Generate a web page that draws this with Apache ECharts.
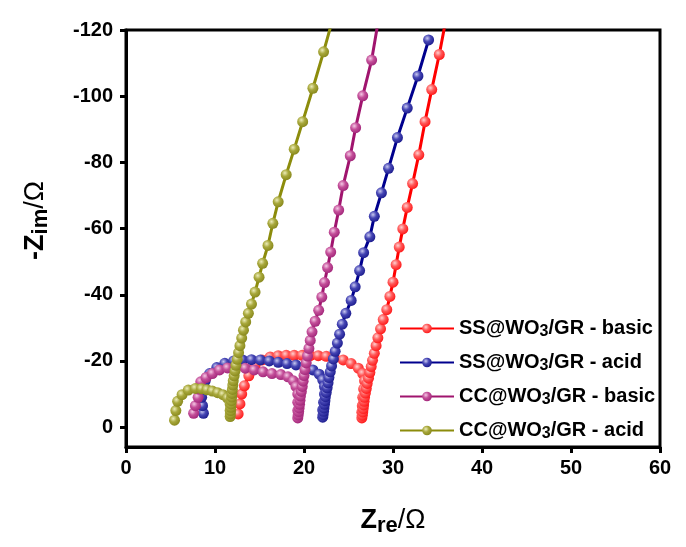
<!DOCTYPE html>
<html>
<head>
<meta charset="utf-8">
<script src="https://cdn.jsdelivr.net/npm/echarts@6/dist/echarts.min.js"></script>
<style>
  html, body { margin: 0; padding: 0; background: #ffffff; }
  #chart { width: 686px; height: 547px; }
</style>
</head>
<body>
<div id="chart"></div>
<script>
// Nyquist plots: [Z_re (Ω), -Z_im (Ω)]
const ssBasic = [
  [12.6,-4],[12.8,-7],[13.0,-10],[13.3,-12.5],[13.8,-15.5],[14.5,-18.5],[15.3,-20.3],[16.2,-21.2],
  [17.1,-21.6],[18.0,-21.7],[18.9,-21.7],[19.8,-21.7],[20.7,-21.6],[21.6,-21.6],[22.5,-21.4],
  [23.4,-21.0],[24.4,-20.3],[25.3,-19.2],[26.1,-17.8],[26.6,-16.2],[26.8,-14.0],[26.7,-11.5],
  [26.6,-9],[26.55,-6.5],[26.5,-4.5],[26.5,-2.8],
  [26.55,-3.6],[26.6,-4.6],[26.65,-5.6],[26.7,-6.7],[26.75,-7.8],[26.8,-9.0],[26.9,-10.3],
  [27.0,-11.7],[27.1,-13.2],[27.25,-14.8],[27.4,-16.5],[27.55,-18.3],[27.7,-20.2],[27.9,-22.3],
  [28.1,-24.6],[28.3,-27.0],[28.6,-29.7],[28.9,-32.5],[29.3,-35.5],[29.65,-39.5],[30.0,-43.8],
  [30.35,-49.1],[30.7,-54.4],[31.1,-59.9],[31.6,-66.4],[32.2,-73.6],[32.9,-82.3],[33.6,-92.3],
  [34.35,-102],[35.2,-112.6],[35.9,-122.5]
];
const ssAcid = [
  [8.7,-4.2],[8.6,-6.5],[8.5,-9],[8.6,-11.5],[8.9,-14],[9.4,-16.2],[10.2,-18],[11.1,-19.3],
  [12.1,-20.0],[13.1,-20.3],[14.1,-20.4],[15.1,-20.3],[16.1,-20.0],[17.1,-19.6],[18.1,-19.2],
  [19.1,-18.8],[20.1,-18.2],[21.0,-17.3],[21.7,-16.0],[22.1,-14.3],[22.3,-12.3],[22.3,-10],
  [22.2,-7.5],[22.1,-5.2],[22.1,-3],
  [22.15,-3.8],[22.2,-4.8],[22.25,-5.8],[22.3,-6.9],[22.35,-8.0],[22.4,-9.2],[22.5,-10.5],
  [22.6,-11.9],[22.7,-13.4],[22.8,-15],[22.95,-16.7],[23.1,-18.5],[23.3,-20.6],[23.5,-22.9],
  [23.75,-25.4],[24.0,-28.1],[24.3,-31.1],[24.7,-34.4],[25.3,-38.3],[25.75,-42.4],[26.25,-47.3],
  [26.7,-52.7],[27.4,-57.5],[27.9,-63.7],[28.7,-70.8],[29.5,-78.2],[30.5,-87.5],[31.6,-96.4],
  [32.8,-106.1],[34.0,-117]
];
const ccBasic = [
  [7.6,-4.2],[7.8,-6.5],[8.1,-9],[8.2,-11.5],[8.4,-13.7],[9.0,-15],[9.7,-16.2],[10.5,-17.3],
  [11.4,-17.9],[12.4,-18.1],[13.4,-17.8],[14.4,-17.3],[15.4,-16.7],[16.4,-16.2],[17.4,-15.9],
  [18.2,-15.2],[18.8,-14],[19.1,-12.3],[19.3,-10],[19.3,-7.5],[19.3,-5],[19.3,-2.8],
  [19.35,-3.7],[19.4,-4.7],[19.45,-5.8],[19.5,-6.9],[19.55,-8.1],[19.6,-9.4],[19.7,-10.8],
  [19.8,-12.3],[19.9,-13.9],[20.0,-15.6],[20.1,-17.4],[20.25,-19.4],[20.4,-21.5],[20.55,-23.8],
  [20.7,-26.2],[20.9,-28.8],[21.25,-32.0],[21.65,-35.3],[22.0,-39.3],[22.3,-43.7],[22.65,-48.2],
  [23.0,-52.9],[23.4,-58.9],[23.9,-65.6],[24.4,-73],[25.2,-82],[25.8,-90.5],[26.6,-100.1],
  [27.6,-110.9],[28.3,-122]
];
const ccAcid = [
  [5.45,-2.1],[5.6,-5],[5.8,-7.8],[6.3,-9.8],[7.0,-11.2],[7.8,-11.7],[8.5,-11.6],[9.1,-11.3],
  [9.7,-10.9],[10.3,-10.4],[10.9,-9.8],[11.4,-8.8],[11.7,-7],[11.7,-5],[11.7,-3.2],
  [11.72,-4],[11.75,-5],[11.78,-6],[11.8,-7],[11.83,-8],[11.87,-9.1],[11.9,-10.2],[11.95,-11.4],
  [12.0,-12.7],[12.05,-14.0],[12.15,-15.5],[12.25,-17],[12.35,-18.7],[12.5,-20.5],[12.65,-22.5],
  [12.8,-24.6],[13.0,-26.9],[13.2,-29.3],[13.45,-31.8],[13.75,-34.4],[14.1,-37.2],[14.5,-40.8],
  [14.95,-45.3],[15.35,-49.5],[15.95,-54.9],[16.5,-61.6],[17.1,-68.1],[18.0,-76.3],[18.9,-84],
  [19.85,-92.3],[21.0,-102.4],[22.2,-113.4],[23.3,-124]
];

const seriesNames = [
  ['SS@WO', '3', '/GR - basic'],
  ['SS@WO', '3', '/GR - acid'],
  ['CC@WO', '3', '/GR - basic'],
  ['CC@WO', '3', '/GR - acid']
];
const xTicks = [0, 10, 20, 30, 40, 50, 60];
const yTicks = [-120, -100, -80, -60, -40, -20, 0];

const lineColors = ['#ff0000', '#00008e', '#a0146e', '#8c8c0c'];
const ballColors = [
  ['#ffd0d0', '#ff5a5a', '#ff1414'],
  ['#c8c8f0', '#4646b4', '#1a1a8c'],
  ['#f4c8e4', '#c4509a', '#a02478'],
  ['#ececb8', '#a8a83c', '#86861a']
];
const dataSets = [ssBasic, ssAcid, ccBasic, ccAcid];

function ball(c) {
  return {
    type: 'radial', x: 0.38, y: 0.35, r: 0.7,
    colorStops: [
      { offset: 0, color: c[0] },
      { offset: 0.45, color: c[1] },
      { offset: 1, color: c[2] }
    ]
  };
}

const legendNames = seriesNames.map(p => p.join(''));
const FONT = 'Liberation Sans, Arial, sans-serif';

const chart = echarts.init(document.getElementById('chart'), null, { renderer: 'canvas' });

const tickFont = { fontFamily: FONT, fontWeight: 'bold', fontSize: 20, color: '#000' };
const titleRich = {
  b: { fontFamily: FONT, fontWeight: 'bold', fontSize: 27, color: '#000', lineHeight: 32 },
  s: { fontFamily: FONT, fontWeight: 'bold', fontSize: 22, color: '#000', lineHeight: 32, padding: [10, 0, 0, 0] },
  r: { fontFamily: FONT, fontWeight: 'normal', fontSize: 27, color: '#000', lineHeight: 32 }
};

chart.setOption({
  backgroundColor: '#ffffff',
  animation: false,
  grid: {
    left: 126, right: 26, top: 30, bottom: 100,
    show: true, borderColor: '#000', borderWidth: 3, backgroundColor: 'transparent'
  },
  legend: {
    orient: 'vertical',
    left: 394, top: 312,
    itemWidth: 54, itemHeight: 12, itemGap: 11,
    data: legendNames,
    formatter: function (name) {
      const i = legendNames.indexOf(name);
      const p = seriesNames[i];
      return '{n|' + p[0] + '}{s|' + p[1] + '}{n|' + p[2] + '}';
    },
    textStyle: {
      rich: {
        n: { fontFamily: FONT, fontWeight: 'bold', fontSize: 20, color: '#000', lineHeight: 21 },
        s: { fontFamily: FONT, fontWeight: 'bold', fontSize: 16, color: '#000', lineHeight: 21, padding: [7, 0, 0, 0] }
      }
    }
  },
  xAxis: {
    type: 'value', min: 0, max: 60, interval: 10,
    name: '{b|Z}{s|re}{r|/Ω}',
    nameLocation: 'middle', nameGap: 58,
    nameTextStyle: { rich: titleRich },
    axisLine: { show: true, onZero: false, lineStyle: { color: '#000', width: 3 } },
    axisTick: { show: true, inside: false, length: 6, lineStyle: { color: '#000', width: 3 }, customValues: xTicks },
    axisLabel: Object.assign({ margin: 11, customValues: xTicks }, tickFont),
    splitLine: { show: false }
  },
  yAxis: {
    type: 'value', min: -120, max: 6, interval: 20, inverse: true,
    name: '{b|-Z}{s|im}{r|/Ω}',
    nameLocation: 'middle', nameGap: 74, nameRotate: 90,
    nameTextStyle: { rich: titleRich, padding: [0, 0, 0, 36] },
    axisLine: { show: true, onZero: false, lineStyle: { color: '#000', width: 3 } },
    axisTick: { show: true, inside: false, length: 6, lineStyle: { color: '#000', width: 3 }, customValues: yTicks },
    axisLabel: Object.assign({
      margin: 13,
      customValues: yTicks,
      formatter: v => (yTicks.indexOf(v) >= 0 ? String(v) : '')
    }, tickFont),
    splitLine: { show: false }
  },
  series: dataSets.map((d, i) => ({
    name: legendNames[i],
    type: 'line',
    data: d,
    clip: true,
    symbol: 'circle',
    symbolSize: 11,
    lineStyle: { color: lineColors[i], width: 3 },
    itemStyle: { color: ball(ballColors[i]), borderWidth: 0 },
    emphasis: { disabled: true }
  }))
});
</script>
</body>
</html>
